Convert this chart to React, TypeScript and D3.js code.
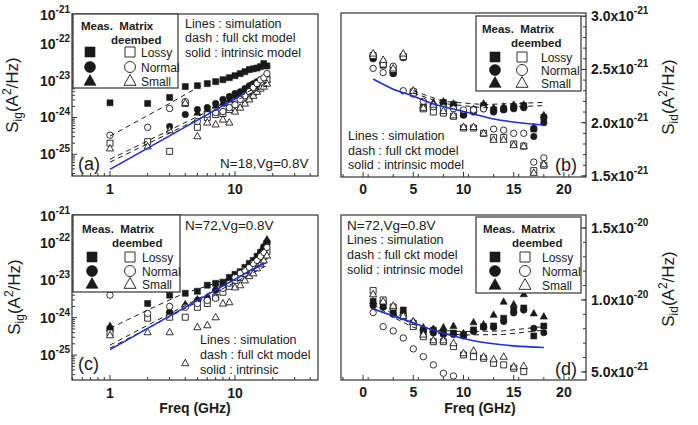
import React from "react";
import * as d3 from "d3";

// ---------------- data ----------------
const FREQ = [1, 2, 3, 4, 5, 6, 7, 8, 9, 10, 11, 12, 13, 14, 15, 16, 17, 18];
const LEGEND_ROWS = ["Lossy", "Normal", "Small"];

// (a) Sig, N=18, Vg=0.8V  (A^2/Hz)
const A_LOSSY_MEAS = [2.5e-24, 2.4e-24, 3.5e-24, 6.9e-24, 7.3e-24, 8.3e-24, 9.4e-24, 1.06e-23, 1.2e-23, 1.36e-23, 1.55e-23, 1.75e-23, 2.0e-23, 2.1e-23, 2.2e-23, 2.4e-23, 2.9e-23, 2.5e-23];
const A_NORMAL_MEAS = [null, null, 5.7e-25, 1.2e-24, 1.64e-24, 1.86e-24, 2.4e-24, 3.1e-24, 3.7e-24, 4.5e-24, 5.0e-24, 6.1e-24, 7.3e-24, 8.3e-24, 9.4e-24, 1.06e-23, 1.13e-23, 1.28e-23];
const A_SMALL_MEAS = [null, null, null, null, 1.36e-24, 1.64e-24, 2.1e-24, 2.5e-24, 3.1e-24, 3.9e-24, 4.5e-24, 5.0e-24, 6.1e-24, 6.9e-24, 7.8e-24, 8.8e-24, 9.4e-24, 1.06e-23];
const A_LOSSY_DE = [2.0e-25, 2.2e-25, 1.2e-25, 2.4e-24, 5.4e-25, 1.0e-24, 1.2e-24, 1.28e-24, 1.64e-24, 1.86e-24, 2.4e-24, 3.1e-24, 3.7e-24, 4.7e-24, 5.7e-24, 7.3e-24, 8.3e-24, 1.06e-23];
const A_NORMAL_DE = [3.3e-25, 5.4e-25, 1.75e-24, 2.7e-24, 7.8e-25, 1.2e-24, 1.36e-24, 1.45e-24, 1.86e-24, 2.2e-24, 3.1e-24, 3.9e-24, 5.0e-24, 6.5e-24, 8.3e-24, 1.06e-23, 1.2e-23, 1.55e-23];
const A_SMALL_DE = [1.45e-25, 1.64e-25, 4.5e-25, 2.5e-24, 3.1e-25, 7.3e-25, 6.5e-25, 8.8e-25, 7.3e-25, 1.45e-24, 1.86e-24, 2.4e-24, 3.1e-24, 3.9e-24, 5.0e-24, 6.1e-24, 6.9e-24, 8.3e-24];
const A_DASH_1: [number, number][] = [[1, 3.1e-25], [2, 1.13e-24], [3, 2.4e-24], [4, 4.2e-24], [5, 6.5e-24], [6, 7.8e-24], [8, 1.0e-23], [10, 1.28e-23], [13, 1.75e-23], [16, 2.2e-23], [18, 2.5e-23]];
const A_DASH_2: [number, number][] = [[1, 7.3e-26], [18, 8.9e-24]];
const A_DASH_3: [number, number][] = [[1, 6.1e-26], [18, 7.4e-24]];
const A_SOLID: [number, number][] = [[1, 3.9e-26], [12, 4.5e-24]];

// (b) Sid, N=18 (A^2/Hz)
const B_LOSSY_MEAS = [2.61e-21, 2.54e-21, 2.47e-21, 2.62e-21, 2.28e-21, 2.15e-21, 2.15e-21, 2.19e-21, 2.17e-21, 2.08e-21, 2.12e-21, 2.16e-21, 2.12e-21, 2.13e-21, 2.15e-21, 2.16e-21, 1.94e-21, 2.05e-21];
const B_NORMAL_MEAS = [2.60e-21, 2.55e-21, 2.46e-21, 2.61e-21, 2.27e-21, 2.14e-21, 2.13e-21, 2.16e-21, 2.15e-21, 2.07e-21, 2.10e-21, 2.13e-21, 2.10e-21, 2.12e-21, 2.13e-21, 2.14e-21, 1.87e-21, 2.00e-21];
const B_SMALL_MEAS = [2.64e-21, 2.58e-21, 2.49e-21, 2.64e-21, 2.30e-21, 2.16e-21, 2.19e-21, 2.20e-21, 2.18e-21, 2.09e-21, 2.13e-21, 2.18e-21, 2.14e-21, 2.15e-21, 2.17e-21, 2.17e-21, 1.96e-21, 2.07e-21];
const B_LOSSY_DE = [2.63e-21, 2.55e-21, 2.50e-21, 2.62e-21, 2.29e-21, 2.13e-21, 2.10e-21, 2.09e-21, 2.06e-21, 1.95e-21, 1.95e-21, 1.90e-21, 1.86e-21, 1.86e-21, 1.80e-21, 1.78e-21, 1.55e-21, 1.60e-21];
const B_NORMAL_DE = [2.51e-21, 2.47e-21, 2.53e-21, 2.30e-21, 2.27e-21, 2.20e-21, 2.15e-21, 2.14e-21, 2.13e-21, 2.12e-21, 2.12e-21, 2.13e-21, 1.94e-21, 1.93e-21, 1.90e-21, 1.90e-21, 1.63e-21, 1.67e-21];
const B_SMALL_DE = [2.65e-21, 2.59e-21, 2.51e-21, 2.65e-21, 2.30e-21, 2.14e-21, 2.17e-21, 2.11e-21, 2.07e-21, 1.96e-21, 1.96e-21, 1.90e-21, 1.84e-21, 1.84e-21, 1.79e-21, 1.78e-21, 1.53e-21, 1.61e-21];
const B_DASH_1: [number, number][] = [[5, 2.30e-21], [8, 2.20e-21], [12, 2.17e-21], [18, 2.19e-21]];
const B_DASH_2: [number, number][] = [[5, 2.28e-21], [8, 2.18e-21], [12, 2.14e-21], [18, 2.16e-21]];
const B_SOLID: [number, number][] = [[1, 2.41e-21], [3, 2.315e-21], [5, 2.25e-21], [7, 2.175e-21], [9, 2.128e-21], [11, 2.081e-21], [13, 2.034e-21], [15, 2.006e-21], [18, 1.978e-21]];

// (c) Sig, N=72, Vg=0.8V
const C_LOSSY_MEAS = [5.0e-25, 2.4e-24, 4.0e-24, 4.5e-24, 5.1e-24, 7.4e-24, 8.3e-24, 8.9e-24, 1.2e-23, 1.45e-23, 1.7e-23, 2.22e-23, 2.84e-23, 3.4e-23, 4.4e-23, 5.6e-23, 7.6e-23, 1.0e-22];
const C_NORMAL_MEAS = [4.6e-25, null, 1.4e-24, 2.0e-24, 2.9e-24, 3.3e-24, 5.4e-24, 6.9e-24, 9.4e-24, 1.2e-23, 1.54e-23, 1.85e-23, 2.4e-23, 3.0e-23, 3.9e-23, 5.3e-23, 7.2e-23, 9.7e-23];
const C_SMALL_MEAS = [6.0e-25, null, 1.6e-24, 2.3e-24, 3.1e-24, 3.3e-24, 6.1e-24, 7.4e-24, 1.0e-23, 1.3e-23, 1.6e-23, 2.0e-23, 2.6e-23, 3.2e-23, 4.2e-23, 5.8e-23, 8.5e-23, 1.24e-22];
const C_LOSSY_DE = [3.9e-25, 9.7e-25, 1.03e-24, 1.03e-24, 1.9e-24, 2.4e-24, 3.5e-24, 4.8e-24, 6.9e-24, 1.0e-23, 1.2e-23, 1.54e-23, 1.85e-23, 2.22e-23, 2.84e-23, 3.4e-23, 4.4e-23, 5.9e-23];
const C_NORMAL_DE = [4.0e-24, 1.3e-24, 2.0e-24, 1.9e-24, 2.4e-24, 2.9e-24, 3.3e-24, 6.1e-24, 8.3e-24, 1.2e-23, 1.54e-23, 1.85e-23, 2.22e-23, 2.84e-23, 3.4e-23, 4.4e-23, 5.6e-23, 7.6e-23];
const C_SMALL_DE = [3.4e-25, 4.1e-25, 4.1e-25, 6.1e-26, 5.6e-25, 6.3e-25, 1.03e-24, 2.4e-24, 2.6e-24, 6.5e-24, 7.4e-24, 1.0e-23, 1.3e-23, 1.54e-23, 2.1e-23, 2.7e-23, 3.4e-23, 4.6e-23];
const C_DASH_1: [number, number][] = [[1, 5.2e-25], [2, 1.6e-24], [3, 3.0e-24], [4, 4.6e-24], [6, 7.0e-24], [8, 1.0e-23], [10, 1.4e-23], [13, 2.6e-23], [18, 8.5e-23]];
const C_DASH_2: [number, number][] = [[1, 1.85e-25], [18, 3.0e-23]];
const C_DASH_3: [number, number][] = [[1, 1.54e-25], [18, 2.5e-23]];
const C_SOLID: [number, number][] = [[1, 1.4e-25], [17, 2.9e-23]];

// (d) Sid, N=72
const D_LOSSY_MEAS = [9.9e-21, 9.8e-21, 9.2e-21, 9.3e-21, 8.4e-21, 7.9e-21, 7.9e-21, 7.7e-21, 7.7e-21, 7.57e-21, 7.92e-21, 8.15e-21, 8.19e-21, 8.73e-21, 9.31e-21, 9.44e-21, 7.5e-21, 8.19e-21];
const D_NORMAL_MEAS = [9.6e-21, 9.5e-21, 9.0e-21, 9.0e-21, 8.3e-21, 7.8e-21, 7.7e-21, 7.6e-21, 7.6e-21, 7.5e-21, 7.8e-21, 8.1e-21, 8.1e-21, 8.5e-21, 9.1e-21, 9.3e-21, 8.03e-21, 7.73e-21];
const D_SMALL_MEAS = [9.9e-21, 9.6e-21, 9.1e-21, 9.1e-21, 8.5e-21, 8.1e-21, 8.0e-21, 8.1e-21, 8.19e-21, 7.7e-21, 8.45e-21, 8.3e-21, 8.97e-21, 9.88e-21, 9.7e-21, 1.04e-20, 9.07e-21, 8.85e-21];
const D_LOSSY_DE = [1.065e-20, 1.0e-20, 9.51e-21, 8.84e-21, 8.15e-21, 7.45e-21, 7.1e-21, 7.1e-21, 6.76e-21, 6.18e-21, 6.06e-21, 5.95e-21, 5.6e-21, 5.49e-21, 5.26e-21, 5.02e-21, null, null];
const D_NORMAL_DE = [9.12e-21, 8.15e-21, 7.85e-21, 7.36e-21, 6.6e-21, 6.06e-21, 5.49e-21, 4.91e-21, 4.72e-21, null, null, null, null, null, null, null, null, null];
const D_SMALL_DE = [1.04e-20, 9.9e-21, 9.6e-21, 8.9e-21, 8.5e-21, 7.6e-21, 7.2e-21, 7.2e-21, 7.0e-21, 6.3e-21, 6.48e-21, 6.06e-21, 5.88e-21, 6.06e-21, 5.37e-21, 5.42e-21, null, null];
const D_DASH_1: [number, number][] = [[1, 9.9e-21], [3, 9.0e-21], [5, 8.3e-21], [7, 7.9e-21], [10, 7.8e-21], [14, 7.85e-21], [18, 8.15e-21]];
const D_DASH_2: [number, number][] = [[1, 9.7e-21], [3, 8.8e-21], [5, 8.1e-21], [7, 7.7e-21], [10, 7.57e-21], [14, 7.6e-21], [18, 7.9e-21]];
const D_SOLID: [number, number][] = [[1, 9.38e-21], [3, 8.89e-21], [5, 8.41e-21], [7, 7.9e-21], [9, 7.49e-21], [11, 7.17e-21], [13, 6.96e-21], [15, 6.81e-21], [18, 6.7e-21]];

const LOG_Y_EXPS = [-25, -24, -23, -22, -21];
const LOG_X_TICKS = [1, 10];
const LIN_X_TICKS = [0, 5, 10, 15, 20];
const B_Y_TICKS = [1.5e-21, 2.0e-21, 2.5e-21, 3.0e-21];
const B_Y_LABELS = ["1.5", "2.0", "2.5", "3.0"];
const B_Y_EXP = ["-21", "-21", "-21", "-21"];
const D_Y_TICKS = [5e-21, 1.0e-20, 1.5e-20];
const D_Y_LABELS = ["5.0", "1.0", "1.5"];
const D_Y_EXP = ["-21", "-20", "-20"];

// ---------------- drawing ----------------
const FONT = "Arial, 'Liberation Sans', Helvetica, sans-serif";
const INK = "#1a1a1a";
const BLUE = "#1f2fd0";

type Shape = "square" | "circle" | "triangle";

function markerPath(shape: Shape, cx: number, cy: number, s: number) {
  if (shape === "square") return `M${cx - s / 2},${cy - s / 2}h${s}v${s}h${-s}Z`;
  if (shape === "triangle") {
    const h = s * 0.9;
    return `M${cx},${cy - h * 0.6}L${cx + s / 2},${cy + h * 0.4}L${cx - s / 2},${cy + h * 0.4}Z`;
  }
  const r = s / 2;
  return `M${cx - r},${cy}a${r},${r} 0 1,0 ${2 * r},0a${r},${r} 0 1,0 ${-2 * r},0`;
}

const SHAPE_SIZE: Record<Shape, number> = { square: 6, circle: 6.4, triangle: 7.2 };

function Marker({ shape, filled, x, y, s }: { shape: Shape; filled: boolean; x: number; y: number; s?: number }) {
  const size = s ?? SHAPE_SIZE[shape];
  return (
    <path
      d={markerPath(shape, x, y, size)}
      fill={filled ? INK : "#fff"}
      stroke={INK}
      strokeWidth={filled ? 0.6 : 0.9}
    />
  );
}

type SeriesDef = { vals: (number | null)[]; shape: Shape; filled: boolean };

function buildSeries(lm: any[], nm: any[], sm: any[], ld: any[], nd: any[], sd: any[]): SeriesDef[] {
  return [
    { vals: lm, shape: "square", filled: true },
    { vals: nm, shape: "circle", filled: true },
    { vals: sm, shape: "triangle", filled: true },
    { vals: ld, shape: "square", filled: false },
    { vals: nd, shape: "circle", filled: false },
    { vals: sd, shape: "triangle", filled: false },
  ];
}

function Legend({ x, y, w, h, mx, ox, lx, rows, hx, hy, dx, dy }: any) {
  const shapes: Shape[] = ["square", "circle", "triangle"];
  return (
    <g fontFamily={FONT} fill={INK}>
      <rect x={x} y={y} width={w} height={h} fill="#fff" stroke="#333" strokeWidth={1.2} />
      <text x={hx} y={hy} fontSize={11.5} fontWeight="bold" xmlSpace="preserve">
        {"Meas.  Matrix"}
      </text>
      <text x={dx} y={dy} fontSize={11.5} fontWeight="bold">deembed</text>
      {shapes.map((sh, i) => (
        <g key={sh}>
          <Marker shape={sh} filled x={mx} y={rows[i]} s={sh === "triangle" ? 12 : sh === "circle" ? 11 : 10} />
          <Marker shape={sh} filled={false} x={ox} y={rows[i]} s={sh === "triangle" ? 12 : sh === "circle" ? 11 : 10} />
          <text x={lx} y={rows[i] + 4.5} fontSize={12}>{LEGEND_ROWS[i]}</text>
        </g>
      ))}
    </g>
  );
}

function Sup({ base, exp, x, y, anchor }: { base: string; exp: string; x: number; y: number; anchor: string }) {
  return (
    <text x={x} y={y} fontSize={14} fontWeight="bold" textAnchor={anchor as any} fontFamily={FONT} fill={INK}>
      {base}
      <tspan fontSize={10} dy={-7}>{exp}</tspan>
    </text>
  );
}

function LogPanel({ frame, yDomain, series, dashes, solid }: any) {
  const [x0, y0, x1, y1] = frame;
  const xs = d3.scaleLog().domain([0.4966, 46.1]).range([x0, x1]);
  const ys = d3.scaleLog().domain(yDomain).range([y1, y0]);
  const line = d3.line<[number, number]>().x((d) => xs(d[0])).y((d) => ys(d[1]));
  const xMinor: number[] = [];
  [-1, 0, 1].forEach((k) => d3.range(1, 10).forEach((m) => {
    const v = m * Math.pow(10, k);
    if (v > xs.domain()[0] && v < xs.domain()[1]) xMinor.push(v);
  }));
  const yMinor: number[] = [];
  d3.range(-26, -20).forEach((k) => d3.range(1, 10).forEach((m) => {
    const v = m * Math.pow(10, k);
    if (v > ys.domain()[0] && v < ys.domain()[1]) yMinor.push(v);
  }));
  return (
    <g>
      {series.map((s: SeriesDef, si: number) =>
        s.vals.map((v, i) =>
          v == null ? null : <Marker key={`${si}-${i}`} shape={s.shape} filled={s.filled} x={xs(FREQ[i])} y={ys(v)} />
        )
      )}
      {dashes.map((d: [number, number][], i: number) => (
        <path key={i} d={line(d) ?? ""} fill="none" stroke={INK} strokeWidth={1} strokeDasharray="5,4" />
      ))}
      <path d={line(solid) ?? ""} fill="none" stroke={BLUE} strokeWidth={1.6} />
      <rect x={x0} y={y0} width={x1 - x0} height={y1 - y0} fill="none" stroke="#333" strokeWidth={1.2} />
      {xMinor.map((v) => {
        const major = LOG_X_TICKS.includes(v);
        return <line key={v} x1={xs(v)} x2={xs(v)} y1={y1} y2={y1 - (major ? 5 : 3)} stroke="#333" />;
      })}
      {yMinor.map((v) => {
        const major = Math.abs(Math.log10(v) - Math.round(Math.log10(v))) < 1e-9;
        return <line key={v} x1={x0} x2={x0 + (major ? 5 : 3)} y1={ys(v)} y2={ys(v)} stroke="#333" />;
      })}
      {LOG_X_TICKS.map((v) => (
        <text key={v} x={xs(v)} y={y1 + 18} fontSize={14} fontWeight="bold" textAnchor="middle" fontFamily={FONT} fill={INK}>
          {String(v)}
        </text>
      ))}
      {LOG_Y_EXPS.map((e) => {
        const ty = Math.max(ys(Math.pow(10, e)), y0 + 1);
        return <Sup key={e} base="10" exp={String(e)} x={x0 - 2} y={ty + 5} anchor="end" />;
      })}
    </g>
  );
}

function LinPanel({ frame, yDomain, yTicks, yLabels, yExps, yMinorStep, series, dashes, solid }: any) {
  const [x0, y0, x1, y1] = frame;
  const xs = d3.scaleLinear().domain([-2.2, 22.2]).range([x0, x1]);
  const ys = d3.scaleLinear().domain(yDomain).range([y1, y0]);
  const line = d3.line<[number, number]>().x((d) => xs(d[0])).y((d) => ys(d[1]));
  const curve = d3.line<[number, number]>().x((d) => xs(d[0])).y((d) => ys(d[1])).curve(d3.curveMonotoneX);
  const xMinor = d3.range(-2, 22.1, 2.5).filter((v) => v > -2.2 && v < 22.2);
  const yMinor: number[] = [];
  for (let v = yTicks[0] - 5 * yMinorStep; v <= yDomain[1]; v += yMinorStep) {
    if (v >= yDomain[0]) yMinor.push(v);
  }
  return (
    <g>
      {series.map((s: SeriesDef, si: number) =>
        s.vals.map((v, i) =>
          v == null ? null : <Marker key={`${si}-${i}`} shape={s.shape} filled={s.filled} x={xs(FREQ[i])} y={ys(v)} />
        )
      )}
      {dashes.map((d: [number, number][], i: number) => (
        <path key={i} d={line(d) ?? ""} fill="none" stroke={INK} strokeWidth={1} strokeDasharray="5,4" />
      ))}
      <path d={curve(solid) ?? ""} fill="none" stroke={BLUE} strokeWidth={1.6} />
      <rect x={x0} y={y0} width={x1 - x0} height={y1 - y0} fill="none" stroke="#333" strokeWidth={1.2} />
      {xMinor.map((v) => (
        <line key={v} x1={xs(v)} x2={xs(v)} y1={y1} y2={y1 - 3} stroke="#333" />
      ))}
      {LIN_X_TICKS.map((v) => (
        <g key={v}>
          <line x1={xs(v)} x2={xs(v)} y1={y1} y2={y1 - 5} stroke="#333" />
          <text x={xs(v)} y={y1 + 17} fontSize={14} fontWeight="bold" textAnchor="middle" fontFamily={FONT} fill={INK}>
            {String(v)}
          </text>
        </g>
      ))}
      {yMinor.map((v, i) => (
        <line key={i} x1={x1} x2={x1 - 3} y1={ys(v)} y2={ys(v)} stroke="#333" />
      ))}
      {yTicks.map((v: number, i: number) => (
        <g key={v}>
          <line x1={x1} x2={x1 - 5} y1={ys(v)} y2={ys(v)} stroke="#333" />
          <Sup base={`${yLabels[i]}x10`} exp={yExps[i]} x={x1 + 5} y={ys(v) + 5} anchor="start" />
        </g>
      ))}
    </g>
  );
}

function Txt({ x, y, children, size = 12.5, weight = "normal" }: any) {
  return (
    <text x={x} y={y} fontSize={size} fontWeight={weight} fontFamily={FONT} fill={INK}>
      {children}
    </text>
  );
}

function YTitle({ x, y, sub }: { x: number; y: number; sub: string }) {
  return (
    <text transform={`translate(${x},${y}) rotate(-90)`} textAnchor="middle" fontSize={17} fontFamily={FONT} fill={INK}>
      S<tspan fontSize={12} dy={4}>{sub}</tspan>
      <tspan dy={-4}>(A</tspan>
      <tspan fontSize={12} dy={-7}>2</tspan>
      <tspan dy={7}>/Hz)</tspan>
    </text>
  );
}

export default function App() {
  const aSeries = buildSeries(A_LOSSY_MEAS, A_NORMAL_MEAS, A_SMALL_MEAS, A_LOSSY_DE, A_NORMAL_DE, A_SMALL_DE);
  const bSeries = buildSeries(B_LOSSY_MEAS, B_NORMAL_MEAS, B_SMALL_MEAS, B_LOSSY_DE, B_NORMAL_DE, B_SMALL_DE);
  const cSeries = buildSeries(C_LOSSY_MEAS, C_NORMAL_MEAS, C_SMALL_MEAS, C_LOSSY_DE, C_NORMAL_DE, C_SMALL_DE);
  const dSeries = buildSeries(D_LOSSY_MEAS, D_NORMAL_MEAS, D_SMALL_MEAS, D_LOSSY_DE, D_NORMAL_DE, D_SMALL_DE);
  return (
    <svg width={698} height={425} style={{ position: "absolute", left: 0, top: 0, background: "#fff" }}>
      <rect x={0} y={0} width={698} height={425} fill="#fff" />
      {/* (a) */}
      <LogPanel frame={[72, 14, 318, 176]} yDomain={[Math.pow(10, -25.59), Math.pow(10, -21.19)]} series={aSeries} dashes={[A_DASH_1, A_DASH_2, A_DASH_3]} solid={A_SOLID} />
      <Legend x={73} y={14} w={105} h={74} mx={90} ox={130} lx={141} rows={[52, 67, 81]} hx={81} hy={30} dx={111} dy={44} />
      <Txt x={185} y={28}>Lines : simulation</Txt>
      <Txt x={185} y={42}>dash : full ckt model</Txt>
      <Txt x={185} y={57}>solid : intrinsic model</Txt>
      <Txt x={78} y={170} size={18}>(a)</Txt>
      <Txt x={220} y={168} size={13.5}>N=18,Vg=0.8V</Txt>
      <YTitle x={18} y={95} sub="ig" />

      {/* (b) */}
      <LinPanel frame={[341, 13, 586, 177]} yDomain={[1.49e-21, 3.03e-21]} yTicks={B_Y_TICKS} yLabels={B_Y_LABELS} yExps={B_Y_EXP} yMinorStep={1e-22} series={bSeries} dashes={[B_DASH_1, B_DASH_2]} solid={B_SOLID} />
      <Legend x={476} y={16} w={105} h={75} mx={495} ox={522} lx={541} rows={[57, 70, 83]} hx={482} hy={33} dx={511} dy={47} />
      <Txt x={348} y={140}>Lines : simulation</Txt>
      <Txt x={348} y={155}>dash : full ckt model</Txt>
      <Txt x={348} y={169}>solid : intrinsic model</Txt>
      <Txt x={555} y={171} size={18}>(b)</Txt>
      <YTitle x={674} y={97} sub="id" />

      {/* (c) */}
      <LogPanel frame={[72, 215, 318, 380]} yDomain={[Math.pow(10, -25.667), Math.pow(10, -21.253)]} series={cSeries} dashes={[C_DASH_1, C_DASH_2, C_DASH_3]} solid={C_SOLID} />
      <Legend x={73} y={215} w={107} h={77} mx={92} ox={130} lx={142} rows={[257, 271, 284]} hx={82} hy={233} dx={112} dy={247} />
      <Txt x={185} y={230} size={13.5}>N=72,Vg=0.8V</Txt>
      <Txt x={200} y={344}>Lines : simulation</Txt>
      <Txt x={200} y={359}>dash : full ckt model</Txt>
      <Txt x={200} y={374}>solid : intrinsic</Txt>
      <Txt x={78} y={370} size={18}>(c)</Txt>
      <YTitle x={20} y={297} sub="ig" />
      <text x={195} y={413} fontSize={14} fontWeight="bold" textAnchor="middle" fontFamily={FONT} fill={INK}>Freq (GHz)</text>

      {/* (d) */}
      <LinPanel frame={[341, 215, 586, 380]} yDomain={[4.44e-21, 1.59e-20]} yTicks={D_Y_TICKS} yLabels={D_Y_LABELS} yExps={D_Y_EXP} yMinorStep={1e-21} series={dSeries} dashes={[D_DASH_1, D_DASH_2]} solid={D_SOLID} />
      <Legend x={476} y={217} w={105} h={76} mx={495} ox={525} lx={542} rows={[257, 271, 285]} hx={483} hy={233} dx={512} dy={247} />
      <Txt x={347} y={230} size={13.5}>N=72,Vg=0.8V</Txt>
      <Txt x={347} y={244}>Lines : simulation</Txt>
      <Txt x={347} y={259}>dash : full ckt model</Txt>
      <Txt x={347} y={274}>solid : intrinsic model</Txt>
      <Txt x={555} y={375} size={18}>(d)</Txt>
      <YTitle x={674} y={289} sub="id" />
      <text x={480} y={413} fontSize={14} fontWeight="bold" textAnchor="middle" fontFamily={FONT} fill={INK}>Freq (GHz)</text>
    </svg>
  );
}
